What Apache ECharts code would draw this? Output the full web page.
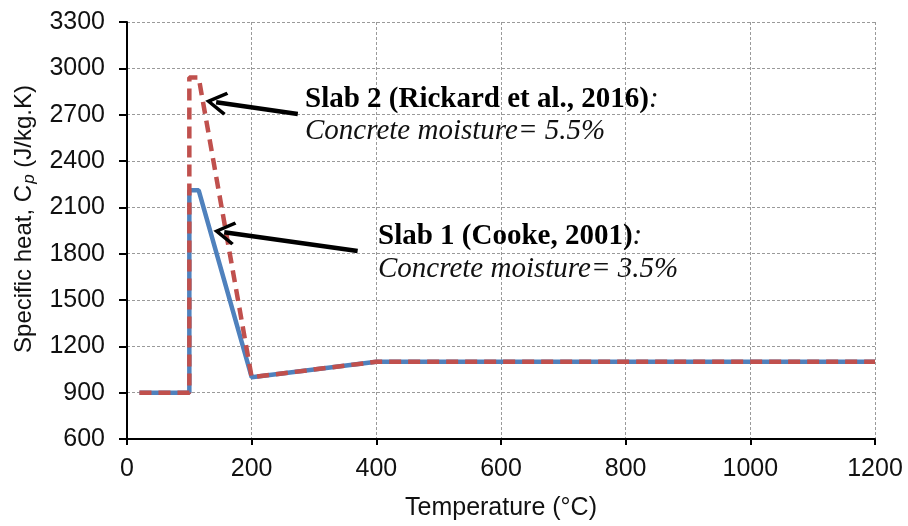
<!DOCTYPE html>
<html>
<head>
<meta charset="utf-8">
<script src="https://cdn.jsdelivr.net/npm/echarts@6/dist/echarts.min.js"></script>
<style>html,body{margin:0;padding:0;background:#fff;}#c{width:908px;height:526px;}</style>
</head>
<body>
<div id="c"></div>
<script>
// Temperature (°C) and specific heat (J/kg.K)
var slab1Temp = [20, 100, 100, 115, 200, 400, 1200];
var slab1Cp   = [900, 900, 2210, 2210, 1000, 1100, 1100];
var slab2Temp = [20, 100, 100, 115, 200, 400, 1200];
var slab2Cp   = [900, 900, 2940, 2940, 1000, 1100, 1100];
var xTicks = [0, 200, 400, 600, 800, 1000, 1200];
var yTicks = [600, 900, 1200, 1500, 1800, 2100, 2400, 2700, 3000, 3300];
// annotation arrows [tail, head] in data units
var arrow2 = [[274, 2704], [143, 2780]];
var arrow1 = [[370, 1817], [156, 1939]];

function pairs(xs, ys){ return xs.map(function(x,i){return [x, ys[i]];}); }

var chart = echarts.init(document.getElementById('c'), null, {renderer:'canvas'});
var sans = 'Liberation Sans, Arial, sans-serif';
var serif = 'Liberation Serif, Times New Roman, serif';
var chevron = 'path://M0,0L13,18L10,20L0,6L-10,20L-13,18Z';

chart.setOption({
  animation: false,
  backgroundColor: '#fff',
  grid: {left: 127, right: 33, top: 22, bottom: 83},
  xAxis: {
    type: 'value', min: xTicks[0], max: xTicks[xTicks.length-1], interval: 200,
    name: 'Temperature (°C)', nameLocation: 'middle', nameGap: 57,
    nameTextStyle: {fontFamily: sans, fontSize: 25, color: '#111'},
    axisLine: {show: true, onZero: false, lineStyle: {color: '#000', width: 2}},
    axisTick: {show: true, length: 6, lineStyle: {color: '#000', width: 2}},
    axisLabel: {fontFamily: sans, fontSize: 25, color: '#111', margin: 18, formatter: function(v){return String(v);}},
    splitLine: {show: true, lineStyle: {color: '#9a9a9a', type: [3, 2], width: 1}}
  },
  yAxis: {
    type: 'value', min: yTicks[0], max: yTicks[yTicks.length-1], interval: 300,
    axisLine: {show: true, onZero: false, lineStyle: {color: '#000', width: 2}},
    axisTick: {show: true, length: 8, lineStyle: {color: '#000', width: 2}},
    axisLabel: {fontFamily: sans, fontSize: 25, color: '#111', margin: 22, formatter: function(v){return String(v);}},
    splitLine: {show: true, lineStyle: {color: '#9a9a9a', type: [3, 2], width: 1}}
  },
  series: [
    {
      name: 'Slab 1', type: 'line', data: pairs(slab1Temp, slab1Cp), showSymbol: false, symbol: 'none',
      lineStyle: {color: '#4F81BD', width: 4.5}, z: 3,
      markLine: {
        silent: true, symbol: ['none', chevron], symbolSize: [24, 22],
        lineStyle: {color: '#000', width: 4.5, type: 'solid'}, label: {show: false},
        data: [[{coord: arrow1[0]}, {coord: arrow1[1]}], [{coord: arrow2[0]}, {coord: arrow2[1]}]]
      }
    },
    {
      name: 'Slab 2', type: 'line', data: pairs(slab2Temp, slab2Cp), showSymbol: false, symbol: 'none',
      lineStyle: {color: '#C0504D', width: 4.5, type: [12, 7]}, z: 4
    }
  ],
  graphic: [
    {type: 'text', x: 24, y: 219, rotation: Math.PI / 2, z: 10, style: {
      text: '{n|Specific heat, C}{s|p}{n| (J/kg.K)}', align: 'center', verticalAlign: 'middle',
      rich: {
        n: {fontFamily: sans, fontSize: 24, fill: '#111'},
        s: {fontFamily: sans, fontSize: 17, fontStyle: 'italic', fill: '#111', verticalAlign: 'bottom', padding: [10, 0, 0, 1]}
      }
    }},
    {type: 'text', left: 305, top: 85, z: 10, style: {
      text: '{b|Slab 2 (Rickard et al., 2016)}{i|:}\n{i|Concrete moisture= 5.5%}',
      rich: {
        b: {fontFamily: serif, fontSize: 29, fontWeight: 'bold', fill: '#000', lineHeight: 32},
        i: {fontFamily: serif, fontSize: 29, fontStyle: 'italic', fill: '#111', lineHeight: 32}
      }
    }},
    {type: 'text', left: 378, top: 222, z: 10, style: {
      text: '{b|Slab 1 (Cooke, 2001)}{i|:}\n{i|Concrete moisture= 3.5%}',
      rich: {
        b: {fontFamily: serif, fontSize: 29, fontWeight: 'bold', fill: '#000', lineHeight: 33},
        i: {fontFamily: serif, fontSize: 29, fontStyle: 'italic', fill: '#111', lineHeight: 33}
      }
    }}
  ]
});
</script>
</body>
</html>
